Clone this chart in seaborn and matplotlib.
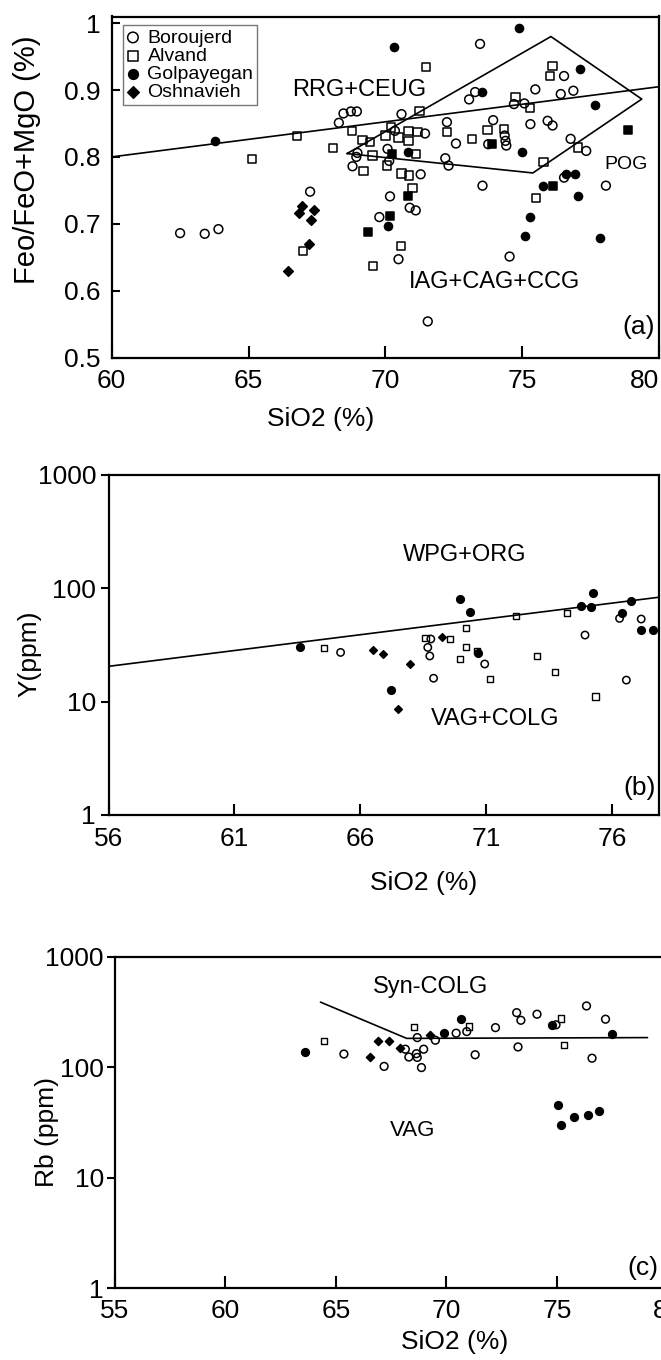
import seaborn as sns
import matplotlib.pyplot as plt
from matplotlib.ticker import NullLocator

# ---------------- panel (a) : Feo/FeO+MgO vs SiO2 ----------------
a_bor_x = [62.5, 63.4, 63.9, 67.25, 68.3, 68.47, 68.74, 68.96, 68.98, 68.94,
           68.8, 69.78, 70.59, 70.35, 70.08, 70.14, 71.45, 72.25, 72.58, 72.19,
           72.31, 73.06, 73.28, 73.46, 73.76, 73.94, 74.36, 74.39, 74.42, 74.7,
           75.08, 75.3, 75.48, 75.93, 76.11, 76.41, 76.53, 76.53, 76.77, 76.87,
           77.34, 71.29, 70.17, 70.89, 71.11, 70.48, 74.54, 73.55, 78.06, 71.55]
a_bor_y = [0.686, 0.685, 0.692, 0.748, 0.851, 0.865, 0.868, 0.868, 0.806, 0.800,
           0.786, 0.710, 0.864, 0.839, 0.812, 0.794, 0.835, 0.852, 0.820, 0.798,
           0.787, 0.886, 0.897, 0.969, 0.819, 0.855, 0.832, 0.824, 0.817, 0.879,
           0.880, 0.849, 0.901, 0.854, 0.847, 0.894, 0.921, 0.769, 0.827, 0.899,
           0.809, 0.774, 0.741, 0.724, 0.720, 0.647, 0.651, 0.757, 0.757, 0.554]

a_alv_x = [65.12, 66.78, 68.09, 68.77, 69.16, 69.45, 69.53, 69.2, 67.0, 69.55,
           71.49, 76.11, 76.02, 74.76, 75.29, 71.25, 70.2, 70.0, 70.84, 70.84,
           70.48, 71.17, 72.25, 73.16, 73.73, 74.34, 71.11, 70.05, 70.59, 70.87,
           70.99, 70.57, 75.78, 75.51, 77.04]
a_alv_y = [0.797, 0.831, 0.813, 0.839, 0.825, 0.822, 0.802, 0.779, 0.659, 0.637,
           0.934, 0.936, 0.921, 0.890, 0.873, 0.869, 0.844, 0.832, 0.839, 0.824,
           0.829, 0.837, 0.837, 0.827, 0.840, 0.842, 0.804, 0.787, 0.775, 0.772,
           0.754, 0.667, 0.792, 0.739, 0.814]

a_gol_x = [63.76, 70.3, 74.87, 73.54, 77.13, 77.65, 75.0, 70.84, 70.08, 75.27,
           75.12, 75.77, 76.61, 76.92, 77.04, 77.86]
a_gol_y = [0.824, 0.965, 0.993, 0.8975, 0.931, 0.878, 0.808, 0.807, 0.697, 0.710,
           0.681, 0.756, 0.774, 0.774, 0.742, 0.679]

# filled squares (not in the legend)
a_sq_x = [73.88, 70.24, 70.84, 70.18, 76.14, 78.86, 69.38]
a_sq_y = [0.819, 0.804, 0.741, 0.712, 0.756, 0.840, 0.687]

a_osh_x = [66.95, 66.83, 67.4, 67.28, 67.2, 66.44]
a_osh_y = [0.727, 0.716, 0.720, 0.706, 0.670, 0.630]

a_line_x = [60, 80]
a_line_y = [0.80, 0.905]
a_pog_x = [68.6, 76.05, 79.37, 75.39, 68.6]
a_pog_y = [0.805, 0.980, 0.8865, 0.776, 0.805]

# ---------------- panel (b) : Y vs SiO2 ----------------
b_gol_x = [63.6, 67.22, 69.93, 70.33, 70.68, 74.74, 75.13, 75.24, 76.39, 76.72, 77.12, 77.59]
b_gol_y = [30.1, 12.7, 80.5, 61.4, 26.7, 70.3, 68.9, 91.6, 61.0, 77.3, 42.8, 42.8]
b_osh_x = [66.49, 66.89, 67.95, 67.49, 69.24]
b_osh_y = [28.6, 26.4, 21.5, 8.7, 37.5]
b_bor_x = [65.21, 68.79, 68.67, 68.75, 68.9, 70.93, 74.91, 76.28, 77.14, 76.55]
b_bor_y = [27.2, 35.7, 30.1, 25.3, 16.1, 21.5, 38.7, 54.3, 53.6, 15.5]
b_alv_x = [64.54, 68.58, 69.54, 69.96, 70.18, 70.18, 70.63, 71.13, 72.17, 73.01, 73.73, 74.2, 75.33]
b_alv_y = [29.6, 36.2, 35.5, 23.8, 44.4, 30.5, 28.2, 15.8, 57.4, 25.3, 18.2, 60.1, 11.1]
b_line_x = [56, 77.85]
b_line_y = [20.5, 83.5]

# ---------------- panel (c) : Rb vs SiO2 ----------------
c_gol_x = [63.6, 69.89, 70.65, 74.77, 77.51, 75.06, 75.19, 75.77, 76.4, 76.92]
c_gol_y = [138, 204, 277, 243, 202, 45.8, 30.2, 35.2, 36.9, 39.8]
c_osh_x = [66.53, 66.9, 67.39, 67.91, 69.25]
c_osh_y = [123, 174, 174, 151, 197]
c_alv_x = [64.46, 68.54, 71.03, 75.19, 75.33]
c_alv_y = [174, 233, 234, 277, 160]
c_bor_x = [65.36, 67.18, 68.14, 68.3, 68.68, 68.68, 68.64, 68.87, 68.97, 69.5, 70.44,
           70.92, 71.3, 72.22, 73.18, 73.37, 74.1, 73.24, 74.96, 76.34, 76.59, 77.2]
c_bor_y = [132, 102, 146, 124, 186, 123, 133, 99.5, 146, 176, 204,
           211, 130, 229, 313, 267, 303, 153, 243, 360, 121, 273]
c_line_x = [64.3, 68.2, 79.1]
c_line_y = [390, 183, 186]

sns.set_style('ticks')
plt.rcParams['font.family'] = ['Liberation Sans', 'DejaVu Sans']
plt.rcParams['axes.linewidth'] = 1.6
for key in ['axes.edgecolor', 'text.color', 'axes.labelcolor', 'xtick.color', 'ytick.color']:
    plt.rcParams[key] = 'black'

W, H = 661, 1360
fig = plt.figure(figsize=(W / 100, H / 100), dpi=100)


def box(left, top, right, bottom):
    return [left / W, 1 - bottom / H, (right - left) / W, (bottom - top) / H]


def points(ax, x, y, marker, s, filled, lw=1.1, label=None):
    sns.scatterplot(x=x, y=y, ax=ax, marker=marker, s=s, color='black',
                    facecolor='black' if filled else 'none', edgecolor='black',
                    linewidth=lw, label=label, zorder=3)


def boundary(ax, x, y):
    sns.lineplot(x=x, y=y, ax=ax, sort=False, estimator=None, color='black', linewidth=1.2)


ax_a = fig.add_axes(box(111.7, 16.5, 659, 357.5))
ax_b = fig.add_axes(box(108.5, 475, 659.1, 815))
ax_c = fig.add_axes(box(115, 957, 674, 1288))

# ---- (a)
boundary(ax_a, a_line_x, a_line_y)
boundary(ax_a, a_pog_x, a_pog_y)
points(ax_a, a_bor_x, a_bor_y, 'o', 40, False, label='Boroujerd')
points(ax_a, a_alv_x, a_alv_y, 's', 36, False, label='Alvand')
points(ax_a, a_gol_x, a_gol_y, 'o', 34, True, label='Golpayegan')
points(ax_a, a_osh_x, a_osh_y, 'D', 24, True, label='Oshnavieh')
points(ax_a, a_sq_x, a_sq_y, 's', 34, True)
ax_a.set_xlim(60, 80)
ax_a.set_ylim(0.5, 1.01)
ax_a.set_xticks([60, 65, 70, 75, 80])
ax_a.set_yticks([0.5, 0.6, 0.7, 0.8, 0.9, 1.0])
ax_a.set_yticklabels(['0.5', '0.6', '0.7', '0.8', '0.9', '1'])
ax_a.tick_params(axis='y', direction='in', length=6, width=1.5, labelsize=19, pad=8)
ax_a.tick_params(axis='x', direction='in', length=9, width=1.5, labelsize=19, pad=8)
ax_a.get_xticklabels()[-1].set_horizontalalignment('right')
ax_a.set_xlabel('SiO2 (%)', fontsize=19)
ax_a.set_ylabel('Feo/FeO+MgO (%)', fontsize=21)
ax_a.xaxis.set_label_coords(0.382, -0.145)
ax_a.yaxis.set_label_coords(-0.13, 0.58)
ax_a.text(66.6, 0.90, 'RRG+CEUG', fontsize=17, va='center')
ax_a.text(70.87, 0.613, 'IAG+CAG+CCG', fontsize=17, va='center')
ax_a.text(78.0, 0.789, 'POG', fontsize=14, va='center')
ax_a.text(79.85, 0.546, '(a)', fontsize=19, va='center', ha='right')
leg = ax_a.legend(loc='upper left', bbox_to_anchor=(0.021, 0.975), borderaxespad=0,
                  fontsize=14, labelspacing=0.03, borderpad=0.2, handlelength=0.6,
                  handletextpad=0.45, markerscale=1.2, fancybox=False, framealpha=1,
                  edgecolor='#777777')
leg.get_frame().set_linewidth(1.0)

# ---- (b)
boundary(ax_b, b_line_x, b_line_y)
points(ax_b, b_bor_x, b_bor_y, 'o', 28, False)
points(ax_b, b_alv_x, b_alv_y, 's', 20, False, lw=1.0)
points(ax_b, b_gol_x, b_gol_y, 'o', 30, True)
points(ax_b, b_osh_x, b_osh_y, 'D', 15, True)
ax_b.set_yscale('log')
ax_b.set_xlim(56, 77.85)
ax_b.set_ylim(1, 1000)
ax_b.set_xticks([56, 61, 66, 71, 76])
ax_b.set_yticks([1, 10, 100, 1000])
ax_b.set_yticklabels(['1', '10', '100', '1000'])
ax_b.yaxis.set_minor_locator(NullLocator())
ax_b.tick_params(axis='y', direction='out', length=6, width=1.5, labelsize=19, pad=3)
ax_b.tick_params(axis='x', direction='in', length=8, width=1.5, labelsize=19, pad=9)
ax_b.set_xlabel('SiO2 (%)', fontsize=19)
ax_b.set_ylabel('Y(ppm)', fontsize=19)
ax_b.xaxis.set_label_coords(0.573, -0.165)
ax_b.yaxis.set_label_coords(-0.121, 0.474)
ax_b.text(67.7, 197, 'WPG+ORG', fontsize=17, va='center')
ax_b.text(68.8, 7.1, 'VAG+COLG', fontsize=17, va='center')
ax_b.text(77.7, 1.74, '(b)', fontsize=19, va='center', ha='right')

# ---- (c)
boundary(ax_c, c_line_x, c_line_y)
points(ax_c, c_bor_x, c_bor_y, 'o', 31, False)
points(ax_c, c_alv_x, c_alv_y, 's', 21, False, lw=1.0)
points(ax_c, c_gol_x, c_gol_y, 'o', 31, True)
points(ax_c, c_osh_x, c_osh_y, 'D', 17, True)
ax_c.set_yscale('log')
ax_c.set_xlim(55, 80.3)
ax_c.set_ylim(1, 1000)
ax_c.set_xticks([55, 60, 65, 70, 75, 80])
ax_c.set_yticks([1, 10, 100, 1000])
ax_c.set_yticklabels(['1', '10', '100', '1000'])
ax_c.yaxis.set_minor_locator(NullLocator())
ax_c.tick_params(axis='y', direction='out', length=6, width=1.5, labelsize=19, pad=2)
ax_c.tick_params(axis='x', direction='in', length=9, width=1.5, labelsize=19, pad=8)
ax_c.set_xlabel('SiO2 (%)', fontsize=19)
ax_c.set_ylabel('Rb (ppm)', fontsize=19)
ax_c.xaxis.set_label_coords(0.607, -0.128)
ax_c.yaxis.set_label_coords(-0.10, 0.47)
ax_c.text(66.67, 538, 'Syn-COLG', fontsize=17, va='center')
ax_c.text(67.44, 26.6, 'VAG', fontsize=16, va='center')
ax_c.text(79.6, 1.51, '(c)', fontsize=19, va='center', ha='right')

fig.savefig('out.png', dpi=100)
